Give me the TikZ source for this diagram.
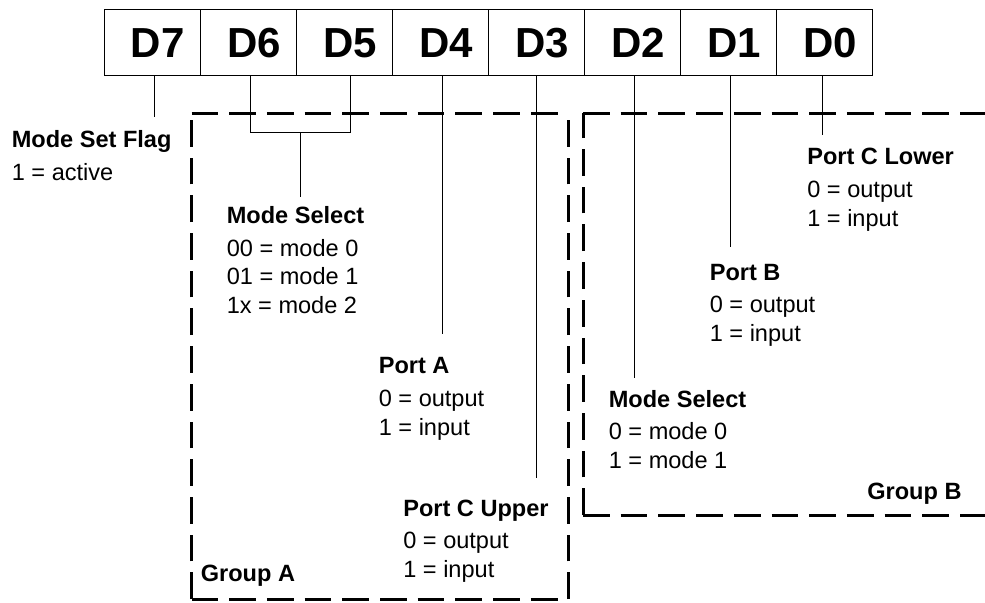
\documentclass[tikz,border=0pt]{standalone}
\usepackage{fontspec}
\setmainfont{Liberation Sans}
\usetikzlibrary{positioning}
\tikzset{
  bit/.style={draw, line width=.3mm, outer sep=0pt, inner sep=0pt,
    minimum width=19.21mm, minimum height=13.28mm,
    text height=17.1pt, text depth=0pt,
    font=\fontsize{23.9}{28}\selectfont\bfseries},
  info/.style={anchor=base west, inner sep=0pt, align=left,
    font=\fontsize{13.4}{16.3}\selectfont},
  group/.style={line width=.6mm, dash pattern=on 5.34mm off 2.2mm},
  wire/.style={line width=.2mm}
}
\newcommand{\bitname}[1]{\hspace{2.2mm}#1}
\begin{document}
\begin{tikzpicture}[x=.2mm,y=-.2mm]
\useasboundingbox (0,0) rectangle (985,602);
% Control word register
\node[bit] (d7) at (152.3,42.5) {\bitname{D7}};
\node[bit, right=0pt of d7] (d6) {\bitname{D6}};
\node[bit, right=0pt of d6] (d5) {\bitname{D5}};
\node[bit, right=0pt of d5] (d4) {\bitname{D4}};
\node[bit, right=0pt of d4] (d3) {\bitname{D3}};
\node[bit, right=0pt of d3] (d2) {\bitname{D2}};
\node[bit, right=0pt of d2] (d1) {\bitname{D1}};
\node[bit, right=0pt of d1] (d0) {\bitname{D0}};
% Group A and group B frames
\draw[group] (191.5,599) -- (191.5,113);
\draw[group] (191.5,599) -- (568,599);
\draw[group] (191.5,113) -- (568,113);
\draw[group] (568,599) -- (568,113);
\draw[group] (583,113) -- (985,113);
\draw[group] (583,515) -- (583,113);
\draw[group] (583,515) -- (985,515);
\node[info] (groupa) at (200.5,581.7) {\textbf{Group A}};
\node[info] (groupb) at (867,499) {\textbf{Group B}};
% Field descriptions (placed at the baseline of their last line)
\node[info] (flag) at (11.5,180) {\textbf{Mode Set Flag}\\[2.2pt]1 = active};
\node[info] (modea) at (226.5,313.3) {\textbf{Mode Select}\\[2.2pt]00 = mode 0\\01 = mode 1\\1x = mode 2};
\node[info] (porta) at (378.5,435) {\textbf{Port A}\\[2.2pt]0 = output\\1 = input};
\node[info] (portcu) at (403,577.3) {\textbf{Port C Upper}\\[2.2pt]0 = output\\1 = input};
\node[info] (modeb) at (608.5,468.3) {\textbf{Mode Select}\\[2.2pt]0 = mode 0\\1 = mode 1};
\node[info] (portb) at (709.5,341.5) {\textbf{Port B}\\[2.2pt]0 = output\\1 = input};
\node[info] (portcl) at (807,226) {\textbf{Port C Lower}\\[2.2pt]0 = output\\1 = input};
% Leader lines from the bits
\coordinate (flagend) at (154.3,117);
\coordinate (d6foot) at (250,132.3);
\coordinate (d5foot) at (350.7,132.3);
\coordinate (modeaend) at (300.4,196.7);
\coordinate (portaend) at (442.3,334);
\coordinate (portcuend) at (536.7,478.3);
\coordinate (modebend) at (634.3,378.3);
\coordinate (portbend) at (730,246.7);
\coordinate (portclend) at (822.7,135);
\draw[wire] (flagend |- d7.south) -- (flagend);
\draw[wire] (d6foot |- d6.south) -- (d6foot) -- (d5foot) -- (d5foot |- d5.south);
\draw[wire] (modeaend |- d6foot) -- (modeaend);
\draw[wire] (portaend |- d4.south) -- (portaend);
\draw[wire] (portcuend |- d3.south) -- (portcuend);
\draw[wire] (modebend |- d2.south) -- (modebend);
\draw[wire] (portbend |- d1.south) -- (portbend);
\draw[wire] (portclend |- d0.south) -- (portclend);
\end{tikzpicture}
\end{document}
